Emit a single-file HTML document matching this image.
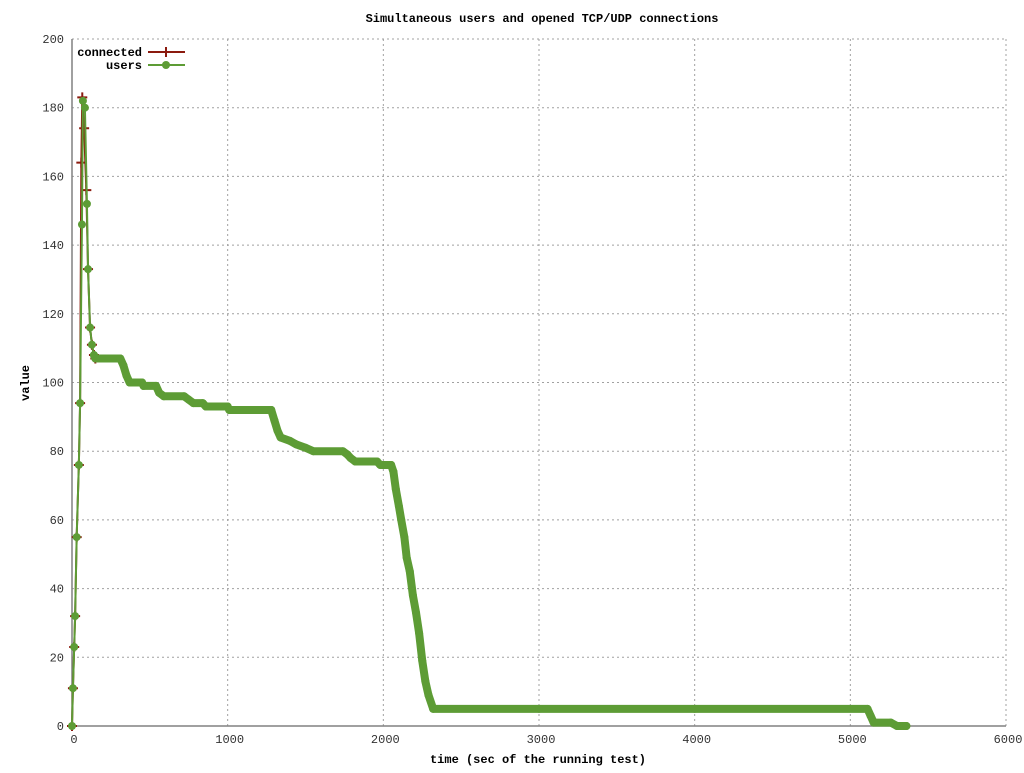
<!DOCTYPE html>
<html><head><meta charset="utf-8"><style>
body{margin:0;background:#fff}
text{font-family:"Liberation Mono",monospace;font-size:12px}
</style></head><body>
<svg id="c" width="1024" height="768" xmlns="http://www.w3.org/2000/svg">
<text x="542" y="22" text-anchor="middle" font-weight="bold" font-size="11">Simultaneous users and opened TCP/UDP connections</text>
<text x="538" y="763" text-anchor="middle" font-weight="bold" font-size="11">time (sec of the running test)</text>
<text transform="translate(29,383) rotate(-90)" text-anchor="middle" font-weight="bold" font-size="11">value</text>
<g id="grid"></g><g id="series"></g>
<g>
<text x="142" y="56" text-anchor="end" font-weight="bold">connected</text>
<line x1="148" y1="52" x2="185" y2="52" stroke="#8b1a0e" stroke-width="2"/>
<line x1="166" y1="47" x2="166" y2="57" stroke="#8b1a0e" stroke-width="2"/>
<text x="142" y="69" text-anchor="end" font-weight="bold">users</text>
<line x1="148" y1="65" x2="185" y2="65" stroke="#5d9c35" stroke-width="2"/>
<circle cx="166" cy="65" r="4" fill="#5d9c35"/>
</g>
</svg>
<script>
const xTicks=[0,1000,2000,3000,4000,5000,6000];
const yTicks=[0,20,40,60,80,100,120,140,160,180,200];
const userTimes=[0,6,14,20,30,44,52,64,70,83,96,103,116,128,141,150,310,330,350,370,450,460,540,560,590,720,750,780,840,860,1000,1010,1280,1300,1320,1340,1400,1440,1500,1550,1740,1770,1790,1820,1960,1980,2050,2065,2080,2100,2115,2135,2150,2170,2190,2210,2230,2250,2270,2290,2320,3000,4000,5110,5130,5150,5260,5300,5360];
const userVals=[0,11,23,32,55,76,94,146,182,180,152,133,116,111,108,107,107,105,102,100,100,99,99,97,96,96,95,94,94,93,93,92,92,89,86,84,83,82,81,80,80,79,78,77,77,76,76,74,69,64,60,55,49,45,38,33,27,19,13,9,5,5,5,5,3,1,1,0,0];
const connTimes=[0,6,14,20,30,44,52,60,66,78,92,103,116,128,141,150];
const connVals=[0,11,23,32,55,76,94,164,183,174,156,133,116,111,108,107];
const X0=72,X1=1006,Y0=726,Y1=39;
const sx=t=>X0+(t-0)/6000*(X1-X0);
const sy=v=>Y0-(v/200)*(Y0-Y1);
const NS="http://www.w3.org/2000/svg";
const svg=document.getElementById('c'),grid=document.getElementById('grid'),ser=document.getElementById('series');
function mk(tag,a,p){const e=document.createElementNS(NS,tag);for(const k in a)e.setAttribute(k,a[k]);(p||svg).appendChild(e);return e;}
xTicks.forEach(t=>{
 const l=mk('line',{x1:sx(t),x2:sx(t),y1:Y1,y2:Y0,stroke:'#a0a0a0','stroke-dasharray':'2,3'},grid);
 
 
 const tx=mk('text',{x:sx(t)+2,y:Y0+17,'text-anchor':'middle',fill:'#333'},grid);tx.textContent=t;
 
 
});
yTicks.forEach(v=>{
 const l=mk('line',{x1:X0,x2:X1,y1:sy(v),y2:sy(v),stroke:'#a0a0a0','stroke-dasharray':'2,3'},grid);
 
 
 const tx=mk('text',{x:X0-8,y:sy(v)+4,'text-anchor':'end',fill:'#333'},grid);tx.textContent=v;
 
 
});
const ax=mk('path',{d:`M${X0},${Y1}V${Y0}H${X1}`,fill:'none',stroke:'#808080','stroke-width':1.5},grid);


function pts(T,V){return T.map((t,i)=>sx(t)+','+sy(V[i])).join(' ');}
const cl=mk('polyline',{points:pts(connTimes,connVals),fill:'none',stroke:'#8b1a0e','stroke-width':2},ser);


connTimes.forEach((t,i)=>{
 const m=mk('path',{d:`M${sx(t)-5},${sy(connVals[i])}h10M${sx(t)},${sy(connVals[i])-5}v10`,stroke:'#8b1a0e','stroke-width':2},ser);
 
 
});
const ul=mk('polyline',{points:pts(userTimes,userVals),fill:'none',stroke:'#5d9c35','stroke-width':2},ser);


const di=userTimes.findIndex(t=>t>=141);
const band=mk('polyline',{points:pts(userTimes.slice(di),userVals.slice(di)),fill:'none',stroke:'#5d9c35','stroke-width':8,'stroke-linejoin':'round','stroke-linecap':'round'},ser);


userTimes.forEach((t,i)=>{
 const c=mk('circle',{cx:sx(t),cy:sy(userVals[i]),r:4,fill:'#5d9c35'},ser);
 
 
});
</script>
</body></html>
